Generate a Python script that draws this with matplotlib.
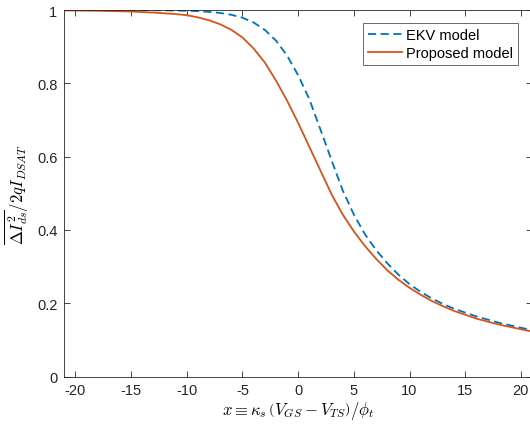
import matplotlib
matplotlib.use("Agg")
import matplotlib.pyplot as plt

# values
x_ekv = [-21, -15, -12, -10, -9, -8, -7, -6, -5, -4, -3, -2, -1, 0, 1, 2, 3, 4,
         5, 6, 7, 8, 9, 10, 11, 12, 13, 14, 16, 18, 20, 21]
y_ekv = [1.0, 1.0, 0.999, 0.998, 0.997, 0.995, 0.992, 0.987, 0.979, 0.966, 0.946,
         0.917, 0.876, 0.822, 0.757, 0.674, 0.590, 0.508, 0.442, 0.388, 0.345,
         0.309, 0.278, 0.252, 0.231, 0.213, 0.198, 0.185, 0.164, 0.147, 0.133, 0.127]

x_prop = [-21, -18, -15, -13, -11, -10, -9, -8, -7, -6, -5, -4, -3, -2, -1, 0, 1,
          2, 3, 4, 5, 6, 7, 8, 9, 10, 11, 12, 13, 14, 16, 18, 20, 21]
y_prop = [0.999, 0.998, 0.996, 0.993, 0.989, 0.986, 0.980, 0.972, 0.961, 0.946,
          0.925, 0.895, 0.857, 0.808, 0.753, 0.692, 0.627, 0.562, 0.497, 0.442,
          0.396, 0.356, 0.321, 0.290, 0.264, 0.242, 0.223, 0.206, 0.192, 0.179,
          0.158, 0.142, 0.129, 0.123]

x_ticks = [-20, -15, -10, -5, 0, 5, 10, 15, 20]
y_ticks = [0, 0.2, 0.4, 0.6, 0.8, 1]
series_names = ["EKV model", "Proposed model"]

plt.rcParams["font.family"] = ["Liberation Sans", "DejaVu Sans"]
plt.rcParams["mathtext.fontset"] = "cm"

axis_grey = "#262626"

fig = plt.figure(figsize=(5.30, 4.31), dpi=100)
ax = fig.add_axes([0.1213, 0.1241, 0.8825, 0.8503])

ax.plot(x_ekv, y_ekv, color="#0072BD", linestyle=(0, (4.5, 2.5)), linewidth=1.3,
        label=series_names[0])
ax.plot(x_prop, y_prop, color="#D95319", linestyle="-", linewidth=1.3,
        label=series_names[1])

ax.set_xlim(-21, 21)
ax.set_ylim(0, 1)
ax.set_xticks(x_ticks)
ax.set_xticklabels([str(t) for t in x_ticks])
ax.set_yticks(y_ticks)
ax.set_yticklabels(["0", "0.2", "0.4", "0.6", "0.8", "1"])

ax.tick_params(direction="in", top=True, right=True, length=4, width=0.6,
               colors=axis_grey, labelsize=10.5, pad=5)
for s in ax.spines.values():
    s.set_color(axis_grey)
    s.set_linewidth(0.6)

ax.set_xlabel(r"$x \equiv \kappa_s\,\left(V_{GS} - V_{TS}\right)/\phi_t$",
              fontsize=12, labelpad=1)
ax.set_ylabel(r"$\overline{\Delta I_{ds}^2}/2qI_{DSAT}$", fontsize=12, labelpad=4)

leg = ax.legend(loc="upper right", bbox_to_anchor=(0.97, 0.965), borderaxespad=0,
                fontsize=10.5, frameon=True, fancybox=False, handlelength=2.3,
                handletextpad=0.3, borderpad=0.35, labelspacing=0.25)
leg.get_frame().set_edgecolor(axis_grey)
leg.get_frame().set_linewidth(0.6)

fig.savefig("out.png", dpi=100)
